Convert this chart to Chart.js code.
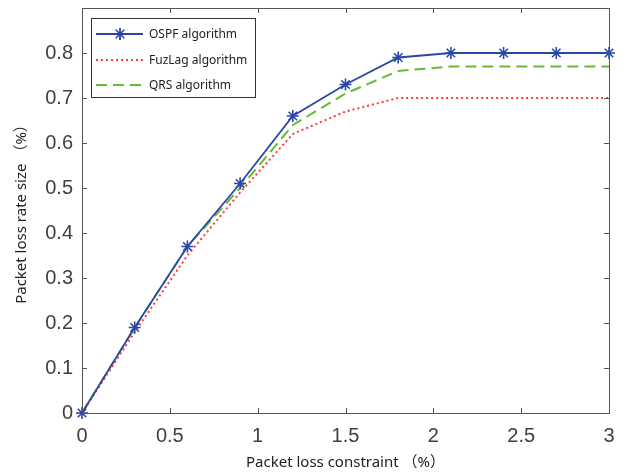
<!DOCTYPE html>
<html><head><meta charset="utf-8">
<script src="https://cdn.jsdelivr.net/npm/chart.js@4/dist/chart.umd.min.js"></script>
<style>html,body{margin:0;padding:0;background:#fff;}#wrap{width:627px;height:476px;}</style>
</head><body><div id="wrap"><canvas id="c" width="627" height="476"></canvas></div>
<script>
const xValues = [0, 0.3, 0.6, 0.9, 1.2, 1.5, 1.8, 2.1, 2.4, 2.7, 3.0];
const ospfValues = [0, 0.19, 0.37, 0.51, 0.66, 0.73, 0.79, 0.80, 0.80, 0.80, 0.80];
const fuzlagValues = [0, 0.18, 0.35, 0.49, 0.62, 0.67, 0.70, 0.70, 0.70, 0.70, 0.70];
const qrsValues = [0, 0.19, 0.37, 0.50, 0.64, 0.71, 0.76, 0.77, 0.77, 0.77, 0.77];
const seriesNames = ['OSPF algorithm', 'FuzLag algorithm', 'QRS algorithm'];
const xTickValues = [0, 0.5, 1, 1.5, 2, 2.5, 3];
const yTickValues = [0, 0.1, 0.2, 0.3, 0.4, 0.5, 0.6, 0.7, 0.8];
const xTitle = 'Packet loss constraint （%）';
const yTitle = 'Packet loss rate size （%）';

const toPts = vals => xValues.map((x, i) => ({x: x, y: vals[i]}));
const AXIS = '#555555';

const frame = {
  id: 'frame',
  afterDraw(chart) {
    const ctx = chart.ctx, a = chart.chartArea;
    const xs = chart.scales.x, ys = chart.scales.y;
    ctx.save();
    ctx.strokeStyle = AXIS; ctx.lineWidth = 1;
    ctx.strokeRect(a.left + 0.5, a.top + 0.5, a.right - a.left, a.bottom - a.top);
    ctx.beginPath();
    const tl = 5;
    xTickValues.forEach(v => {
      const p = Math.round(xs.getPixelForValue(v)) + 0.5;
      ctx.moveTo(p, a.bottom); ctx.lineTo(p, a.bottom - tl);
      ctx.moveTo(p, a.top); ctx.lineTo(p, a.top + tl);
    });
    yTickValues.forEach(v => {
      const p = Math.round(ys.getPixelForValue(v)) + 0.5;
      ctx.moveTo(a.left, p); ctx.lineTo(a.left + tl, p);
      ctx.moveTo(a.right, p); ctx.lineTo(a.right - tl, p);
    });
    ctx.stroke();
    // legend
    const bx = 91, by = 18, bw = 164, bh = 79;
    ctx.fillStyle = '#fff';
    ctx.fillRect(bx, by, bw, bh);
    ctx.strokeStyle = '#333'; ctx.lineWidth = 1;
    ctx.strokeRect(bx + 0.5, by + 0.5, bw, bh);
    const rows = [34, 60, 85];
    chart.data.datasets.forEach((ds, i) => {
      const y = rows[i];
      ctx.save();
      ctx.strokeStyle = ds.borderColor; ctx.lineWidth = ds.borderWidth;
      ctx.setLineDash(ds.borderDash || []);
      ctx.beginPath(); ctx.moveTo(96, y); ctx.lineTo(143, y); ctx.stroke();
      ctx.restore();
      if (ds.pointRadius > 0) {
        Chart.helpers.drawPoint(ctx, {pointStyle: ds.pointStyle, radius: ds.pointRadius, borderWidth: ds.pointBorderWidth}, 120, y);
        ctx.strokeStyle = ds.borderColor; ctx.lineWidth = ds.pointBorderWidth;
        ctx.stroke();
      }
      ctx.fillStyle = '#222';
      ctx.font = '12px "Noto Sans"';
      ctx.textBaseline = 'middle'; ctx.textAlign = 'left';
      ctx.fillText(ds.label, 149, y + 1);
    });
    ctx.restore();
  }
};

new Chart(document.getElementById('c'), {
  type: 'line',
  data: {
    datasets: [
      {label: seriesNames[0], data: toPts(ospfValues), borderColor: '#2a47a8', backgroundColor: '#2a47a8',
       borderWidth: 1.8, pointStyle: 'star', pointRadius: 6, pointBorderWidth: 1.6, pointBorderColor: '#2a47a8', clip: false},
      {label: seriesNames[1], data: toPts(fuzlagValues), borderColor: '#ff3b3b', borderWidth: 2,
       borderDash: [2, 3], pointRadius: 0, clip: false},
      {label: seriesNames[2], data: toPts(qrsValues), borderColor: '#66bb33', borderWidth: 2,
       borderDash: [11, 6], pointRadius: 0, clip: false}
    ]
  },
  options: {
    responsive: false, animation: false, devicePixelRatio: 1,
    layout: {padding: {top: 8, right: 18, left: 0, bottom: 0}},
    plugins: {legend: {display: false}, tooltip: {enabled: false}},
    scales: {
      x: {
        type: 'linear', min: 0, max: 3,
        afterBuildTicks: s => { s.ticks = xTickValues.map(v => ({value: v})); },
        afterFit: s => { s.height = 63; s.paddingLeft = 0; s.paddingRight = 0; },
        grid: {display: false, drawTicks: false},
        border: {display: false},
        ticks: {padding: 11, color: '#404040', font: {family: '"Liberation Sans", Arial', size: 20}, maxRotation: 0,
                callback: v => String(v)},
        title: {display: true, text: xTitle, color: '#222', font: {family: '"Noto Sans", "Noto Sans CJK SC"', size: 15}, padding: {top: 0, bottom: 4}}
      },
      y: {
        type: 'linear', min: 0, max: 0.9,
        afterBuildTicks: s => { s.ticks = yTickValues.map(v => ({value: v})); },
        afterFit: s => { s.width = 82; s.paddingTop = 0; s.paddingBottom = 0; },
        grid: {display: false, drawTicks: false},
        border: {display: false},
        ticks: {padding: 9, color: '#404040', font: {family: '"Liberation Sans", Arial', size: 20},
                callback: v => String(Math.round(v * 10) / 10)},
        title: {display: true, text: yTitle, color: '#222', font: {family: '"Noto Sans", "Noto Sans CJK SC"', size: 15}, padding: {top: 13, bottom: 0}}
      }
    }
  },
  plugins: [frame]
});
</script></body></html>
